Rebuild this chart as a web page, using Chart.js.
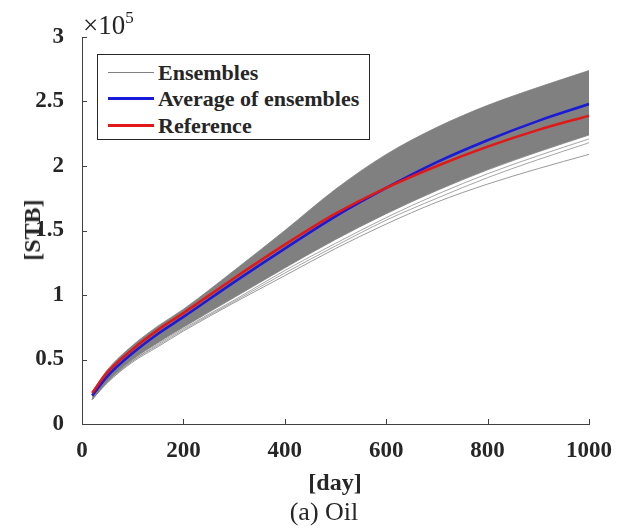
<!DOCTYPE html>
<html>
<head>
<meta charset="utf-8">
<script src="https://cdn.jsdelivr.net/npm/chart.js@4.4.0/dist/chart.umd.min.js"></script>
<style>
  body { margin: 0; background: #fff; }
  #wrap { position: relative; width: 618px; height: 530px; font-family: "Liberation Serif", "Times New Roman", serif; color: #262626; }
  canvas { position: absolute; left: 0; top: 0; }
  .txt { position: absolute; white-space: nowrap; line-height: 1; }
  .b { font-weight: bold; }
  #legend { position: absolute; left: 97px; top: 54px; width: 271px; height: 84px; border: 1px solid #262626; background: #fff; }
  .row { position: absolute; left: 0; height: 20px; }
  .sample { position: absolute; left: 10px; width: 46px; }
  .lbl { position: absolute; left: 60px; top: -1px; font-size: 22px; font-weight: bold; line-height: 1; white-space: nowrap; }
</style>
</head>
<body>
<div id="wrap">
  <canvas id="chart" width="618" height="530"></canvas>

  <div class="txt" style="left:83px; top:12px; font-size:27px;">&times;10<span style="font-size:17px; position:relative; top:-11px;">5</span></div>
  <div class="txt b" style="left:32px; top:230px; font-size:24px; transform:translate(-50%,-50%) rotate(-90deg);">[STB]</div>
  <div class="txt b" style="left:335px; top:482px; font-size:24px; transform:translate(-50%,-50%);">[day]</div>
  <div class="txt" style="left:324px; top:512px; font-size:26px; transform:translate(-50%,-50%);">(a) Oil</div>

  <div id="legend">
    <div class="row" style="top:8px;"><div class="sample" style="top:9px; border-top:1px solid #808080;"></div><div class="lbl">Ensembles</div></div>
    <div class="row" style="top:34px;"><div class="sample" style="top:8px; border-top:3px solid #1a1ad8;"></div><div class="lbl">Average of ensembles</div></div>
    <div class="row" style="top:61px;"><div class="sample" style="top:8px; border-top:3px solid #e01818;"></div><div class="lbl">Reference</div></div>
  </div>
</div>

<script>
// cumulative oil, in units of 1e5 STB
const DAYS = [20, 50, 100, 150, 200, 300, 400, 500, 600, 700, 800, 900, 1000];

const REFERENCE = [0.24, 0.40, 0.58, 0.73, 0.86, 1.13, 1.39, 1.63, 1.83, 2.00, 2.15, 2.28, 2.39];
const AVERAGE   = [0.22, 0.37, 0.55, 0.70, 0.83, 1.10, 1.36, 1.61, 1.83, 2.03, 2.20, 2.35, 2.48];

// upper and lower edge of the dense ensemble bundle
const ENS_TOP    = [0.25, 0.42, 0.61, 0.76, 0.89, 1.19, 1.50, 1.82, 2.09, 2.30, 2.47, 2.61, 2.74];
const ENS_BOTTOM = [0.19, 0.33, 0.50, 0.63, 0.75, 0.98, 1.21, 1.43, 1.63, 1.81, 1.97, 2.11, 2.24];
// single members sitting below the bundle
const ENS_LOW_A  = [0.19, 0.33, 0.49, 0.62, 0.74, 0.96, 1.19, 1.40, 1.60, 1.78, 1.94, 2.08, 2.21];
const ENS_LOW_B  = [0.19, 0.32, 0.49, 0.61, 0.73, 0.95, 1.17, 1.38, 1.58, 1.75, 1.91, 2.05, 2.18];
const ENS_LOWEST = [0.19, 0.32, 0.48, 0.60, 0.72, 0.94, 1.15, 1.36, 1.55, 1.72, 1.86, 1.98, 2.09];

const X_TICKS = [0, 200, 400, 600, 800, 1000];
const Y_TICKS = [0, 0.5, 1, 1.5, 2, 2.5, 3];

const GRAY = '#808080';
const FONT = '"Liberation Serif", "Times New Roman", serif';

const pts = ys => DAYS.map((d, i) => ({ x: d, y: ys[i] }));

function line(data, color, width, extra) {
  return Object.assign({
    data: pts(data),
    borderColor: color,
    borderWidth: width,
    pointRadius: 0,
    fill: false,
    cubicInterpolationMode: 'monotone'
  }, extra || {});
}

// matlab style ticks pointing into the plot
const inwardTicks = {
  id: 'inwardTicks',
  afterDatasetsDraw(chart) {
    const { ctx, scales: { x, y } } = chart;
    ctx.save();
    ctx.strokeStyle = '#404040';
    ctx.lineWidth = 1;
    ctx.beginPath();
    X_TICKS.forEach(v => {
      const px = Math.round(x.getPixelForValue(v)) + 0.5;
      ctx.moveTo(px, y.bottom);
      ctx.lineTo(px, y.bottom - 5);
    });
    Y_TICKS.forEach(v => {
      const py = Math.round(y.getPixelForValue(v)) + 0.5;
      ctx.moveTo(x.left, py);
      ctx.lineTo(x.left + 5, py);
    });
    ctx.stroke();
    ctx.restore();
  }
};

new Chart(document.getElementById('chart').getContext('2d'), {
  type: 'line',
  data: {
    datasets: [
      line(REFERENCE, '#e01818', 2.6),
      line(AVERAGE, '#1a1ad8', 2.6),
      line(ENS_TOP, GRAY, 0.8, { fill: { target: 3 }, backgroundColor: GRAY }),
      line(ENS_BOTTOM, GRAY, 0.8),
      line(ENS_LOW_A, GRAY, 0.7),
      line(ENS_LOW_B, GRAY, 0.7),
      line(ENS_LOWEST, GRAY, 0.8)
    ]
  },
  options: {
    responsive: false,
    animation: false,
    devicePixelRatio: 1,
    layout: { padding: { left: 0, top: 37, right: 29, bottom: 0 } },
    plugins: { legend: { display: false }, tooltip: { enabled: false } },
    scales: {
      x: {
        type: 'linear',
        min: 0,
        max: 1000,
        afterFit: s => { s.height = 106; },
        afterBuildTicks: s => { s.ticks = X_TICKS.map(v => ({ value: v })); },
        ticks: { font: { family: FONT, size: 23, weight: 'bold' }, color: '#262626', padding: 5, maxRotation: 0, callback: v => String(v) },
        grid: { display: false },
        border: { display: true, color: '#404040', width: 1 }
      },
      y: {
        type: 'linear',
        min: 0,
        max: 3,
        afterFit: s => { s.width = 82; },
        afterBuildTicks: s => { s.ticks = Y_TICKS.map(v => ({ value: v })); },
        ticks: { font: { family: FONT, size: 23, weight: 'bold' }, color: '#262626', padding: 10, callback: v => String(v) },
        grid: { display: false },
        border: { display: true, color: '#404040', width: 1 }
      }
    }
  },
  plugins: [inwardTicks]
});
</script>
</body>
</html>
